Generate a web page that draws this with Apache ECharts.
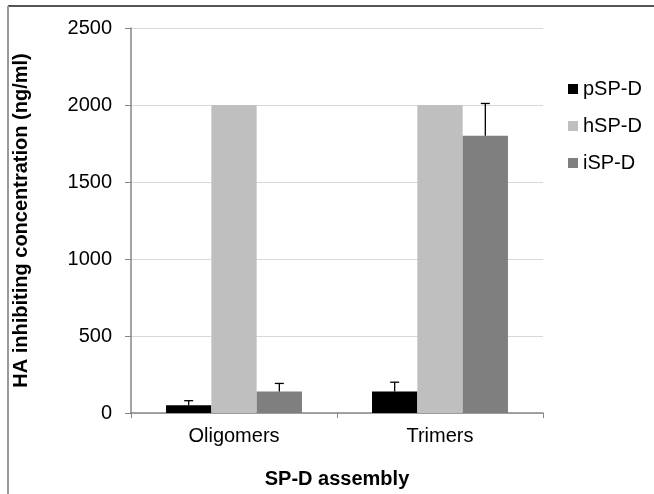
<!DOCTYPE html>
<html><head><meta charset="utf-8">
<script src="https://cdn.jsdelivr.net/npm/echarts@6/dist/echarts.min.js"></script>
<style>html,body{margin:0;padding:0;background:#fff}#c{width:654px;height:494px}</style>
</head><body><div id="c"></div>
<script>
const categories = ['Oligomers', 'Trimers'];
const seriesNames = ['pSP-D', 'hSP-D', 'iSP-D'];
const pSPD = [50, 140];
const hSPD = [2000, 2000];
const iSPD = [140, 1800];
const pSPDErr = [30, 60];
const hSPDErr = [0, 0];
const iSPDErr = [52, 210];
const yTicks = [0, 500, 1000, 1500, 2000, 2500];

const colors = ['#000000', '#bfbfbf', '#7f7f7f'];
const values = [pSPD, hSPD, iSPD];
const errs = [pSPDErr, hSPDErr, iSPDErr];
const gapFrac = 0.34;

const chart = echarts.init(document.getElementById('c'));
const font = '"Liberation Sans", Arial, sans-serif';

const barSeries = seriesNames.map((n, i) => ({
  name: n, type: 'bar', data: values[i],
  barCategoryGap: '34%', barGap: '0%',
  itemStyle: { color: colors[i] }, z: 2
}));

const errSeries = seriesNames.map((n, i) => ({
  type: 'custom', name: n + ' err', z: 5, silent: true,
  data: values[i].map((v, k) => [k, v, errs[i][k]]),
  renderItem: function (params, api) {
    const e = api.value(2);
    if (!e) return null;
    const catW = api.size([1, 0])[0];
    const bw = catW * (1 - gapFrac) / 3;
    const off = (i - 1) * bw;
    const base = api.coord([api.value(0), api.value(1)]);
    const top = api.coord([api.value(0), api.value(1) + e]);
    const x = base[0] + off;
    const cap = 4.5;
    return { type: 'group', children: [
      { type: 'line', shape: { x1: x, y1: base[1], x2: x, y2: top[1] }, style: { stroke: '#000', lineWidth: 1.3 } },
      { type: 'line', shape: { x1: x - cap, y1: top[1], x2: x + cap, y2: top[1] }, style: { stroke: '#000', lineWidth: 1.3 } }
    ]};
  }
}));

chart.setOption({
  animation: false,
  textStyle: { fontFamily: font },
  grid: { left: 131, right: 111, top: 28, bottom: 78 },
  legend: {
    orient: 'vertical', left: 563, top: 74, itemGap: 17,
    itemWidth: 10, itemHeight: 10, icon: 'rect',
    data: seriesNames,
    textStyle: { fontSize: 20, color: '#000', fontFamily: font }
  },
  xAxis: {
    type: 'category', data: categories,
    name: 'SP-D assembly', nameLocation: 'middle', nameGap: 56,
    nameTextStyle: { fontSize: 20, fontWeight: 'bold', color: '#000', fontFamily: font },
    axisLine: { lineStyle: { color: '#868686', width: 1.5 } },
    axisTick: { show: true, length: 5, lineStyle: { color: '#868686' } },
    axisLabel: { fontSize: 20, color: '#000', margin: 13, fontFamily: font }
  },
  yAxis: {
    type: 'value', min: 0, max: 2500, interval: 500,
    name: 'HA inhibiting concentration (ng/ml)', nameLocation: 'middle', nameGap: 100,
    nameTextStyle: { fontSize: 20, fontWeight: 'bold', color: '#000', fontFamily: font },
    axisLine: { show: true, lineStyle: { color: '#868686', width: 1.5 } },
    axisTick: { show: true, length: 6, lineStyle: { color: '#868686' } },
    axisLabel: { fontSize: 20, color: '#000', margin: 19, fontFamily: font,
      formatter: v => yTicks.includes(v) ? String(v) : '' },
    splitLine: { lineStyle: { color: '#d9d9d9', width: 1.2 } }
  },
  graphic: [
    { type: 'line', shape: { x1: 8, y1: 6, x2: 654, y2: 6 }, style: { stroke: '#555', lineWidth: 2 } },
    { type: 'line', shape: { x1: 8, y1: 6, x2: 8, y2: 494 }, style: { stroke: '#9a9a9a', lineWidth: 2 } }
  ],
  series: barSeries.concat(errSeries)
});
</script></body></html>
